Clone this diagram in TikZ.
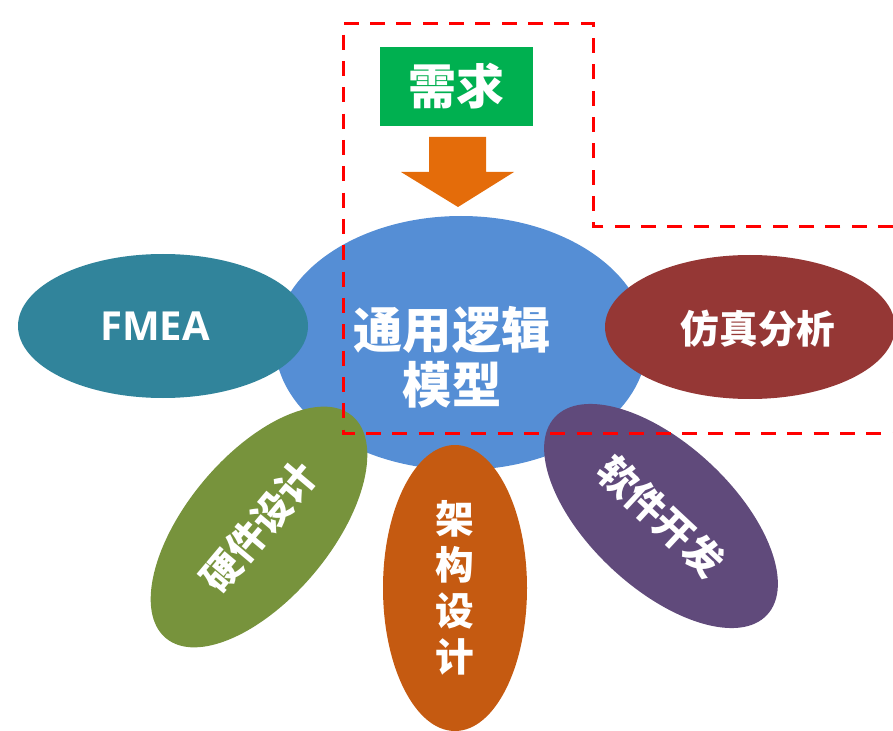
\documentclass[tikz,border=0pt]{standalone}
\usepackage{fontspec}
\setmainfont{Open Sans}
\newfontfamily\cjk{Noto Sans CJK SC}
\usetikzlibrary{shapes.geometric}
\definecolor{cblue}{HTML}{558ED5}
\definecolor{cteal}{HTML}{31849B}
\definecolor{cdred}{HTML}{953735}
\definecolor{colive}{HTML}{77933C}
\definecolor{corange}{HTML}{C55A11}
\definecolor{cpurple}{HTML}{604A7B}
\definecolor{cgreen}{HTML}{00B050}
\definecolor{carrow}{HTML}{E46C0A}
\definecolor{cdash}{HTML}{FF0000}
\begin{document}
\begin{tikzpicture}[x=0.75pt,y=-0.75pt,
  petal/.style={ellipse, draw=none, minimum width=217.5pt, minimum height=108pt, inner sep=0pt,
    text=white, font=\cjk\bfseries\fontsize{29}{34.5}\selectfont},
  petaltext/.style={text=white, inner sep=0pt, font=\cjk\bfseries\fontsize{29}{34.5}\selectfont},
  hub/.style={ellipse, draw=none, fill=cblue, minimum width=279pt, minimum height=190.5pt, inner sep=0pt},
  hubtext/.style={text=white, align=center, font=\cjk\bfseries\fontsize{37}{41}\selectfont},
  reqbox/.style={rectangle, fill=cgreen, minimum width=114.75pt, minimum height=59.25pt, inner sep=0pt,
    text=white, font=\cjk\bfseries\fontsize{36}{40}\selectfont},
  blockarrow/.style={fill=carrow, draw=none},
  frame/.style={draw=cdash, line width=2.25pt, dash pattern=on 11.25pt off 8.5pt}
]
\useasboundingbox (0,0) rectangle (893,731);
\node[hub] (hub) at (461,343) {};
\node[petal, fill=cteal] (fmea) at (163,326) {};
\node[petaltext, font=\bfseries\fontsize{30}{34}\selectfont] (fmeatxt) at (155,326) {FMEA};
\node[petal, fill=cdred] (sim) at (750,327) {};
\node[petaltext] (simtxt) at (758,329) {仿真分析};
\node[petal, fill=colive, rotate=50] (hw) at (259,527) {硬件设计};
\node[petal, fill=cpurple, rotate=-43] (sw) at (661,516) {软件开发};
\node[petal, fill=corange, minimum width=108pt, minimum height=214.5pt, align=center] (arch) at (455,588) {架\\构\\设\\计};
\node[hubtext] (hubtxt) at (452,357) {通用逻辑\\模型};
\node[reqbox] (req) at (456.5,86.5) {需求};
\fill[blockarrow] (429,137) -- (486,137) -- (486,172) -- (514,172) -- (458,207) -- (401,172) -- (429,172) -- cycle;
\draw[frame] (893,227) -- (593,227) -- (593,24) -- (343,24) -- (343,433) -- (893,433);
\end{tikzpicture}
\end{document}
